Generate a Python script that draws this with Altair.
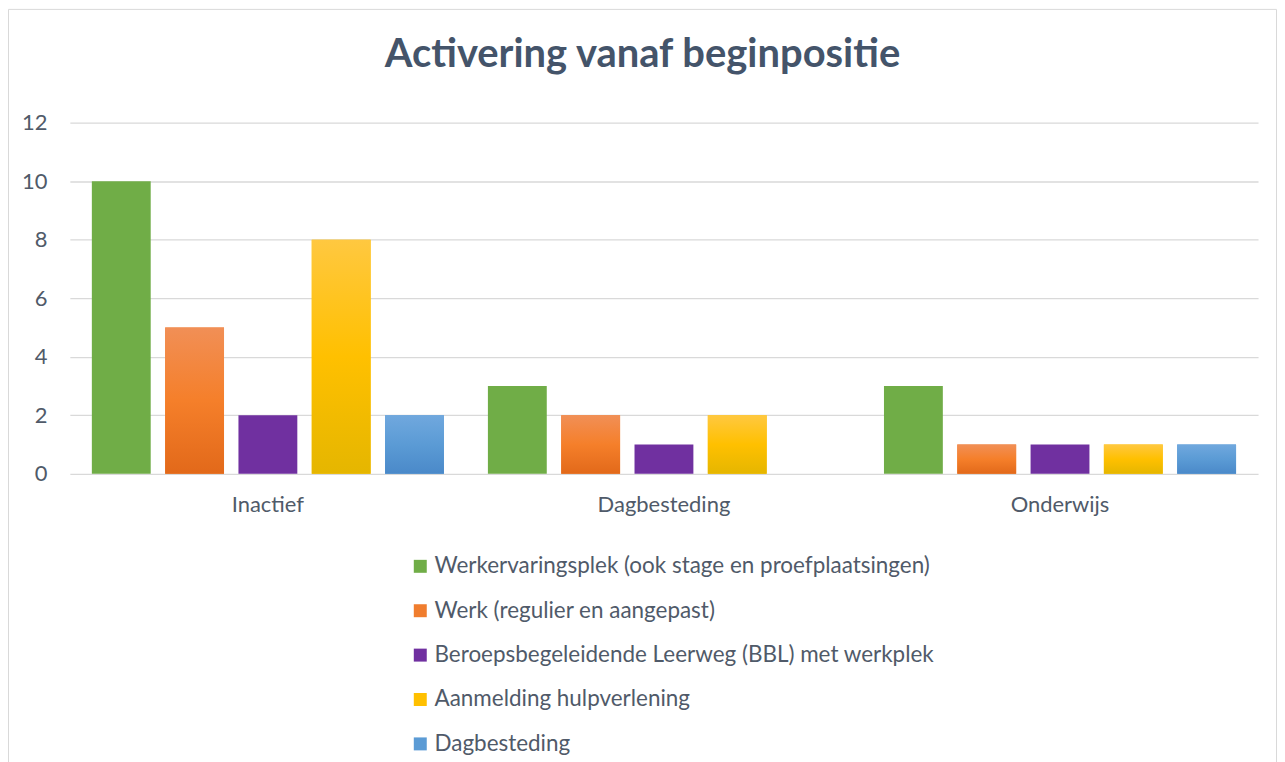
import altair as alt
import pandas as pd

categories = ["Inactief", "Dagbesteding", "Onderwijs"]
series = [
    "Werkervaringsplek (ook stage en proefplaatsingen)",
    "Werk (regulier en aangepast)",
    "Beroepsbegeleidende Leerweg (BBL) met werkplek",
    "Aanmelding hulpverlening",
    "Dagbesteding",
]
values_inactief = [10, 5, 2, 8, 2]
values_dagbesteding = [3, 2, 1, 2, 0]
values_onderwijs = [3, 1, 1, 1, 1]
colors = ["#70AD47", "#F07D2E", "#7030A0", "#FFC000", "#5B9BD5"]

rows = []
for cat, vals in zip(categories, [values_inactief, values_dagbesteding, values_onderwijs]):
    for s, v in zip(series, vals):
        rows.append({"category": cat, "series": s, "value": v})
df = pd.DataFrame(rows)

FONT = "Lato"
LABEL_COLOR = "#505A69"


def grad(top, mid, bottom):
    return alt.Gradient(
        gradient="linear",
        x1=0, y1=0, x2=0, y2=1,
        stops=[
            alt.GradientStop(color=top, offset=0),
            alt.GradientStop(color=mid, offset=0.5),
            alt.GradientStop(color=bottom, offset=1),
        ],
    )


gradients = {
    series[1]: grad("#F18F56", "#F57F2A", "#E2691A"),
    series[3]: grad("#FFC840", "#FFC000", "#E5B600"),
    series[4]: grad("#70A8DE", "#5B9BD5", "#4A89C9"),
}

x_enc = alt.X(
    "category:N",
    sort=categories,
    scale=alt.Scale(domain=categories, paddingInner=0, paddingOuter=0),
    axis=alt.Axis(
        title=None, labelAngle=0, ticks=False, domain=False,
        labelFontSize=22, labelFont=FONT, labelColor=LABEL_COLOR, labelPadding=21,
    ),
)
xo_enc = alt.XOffset(
    "series:N",
    sort=series,
    scale=alt.Scale(domain=series, paddingInner=0.197, paddingOuter=0.3),
)
y_enc = alt.Y(
    "value:Q",
    scale=alt.Scale(domain=[0, 12], nice=False),
    axis=alt.Axis(
        title=None, values=[0, 2, 4, 6, 8, 10, 12], ticks=False, domain=False,
        labelFontSize=22, labelFont=FONT, labelColor=LABEL_COLOR, labelPadding=23,
        gridColor="#D9D9D9", gridWidth=1.3,
    ),
)

border = alt.Chart(pd.DataFrame({"a": [0]})).mark_rect(
    fillOpacity=0, stroke="#D9D9D9", strokeWidth=1
).encode(
    x=alt.value(-61.5), x2=alt.value(1209.5), y=alt.value(-113.5), y2=alt.value(700)
)

bars = alt.Chart(df).mark_bar().encode(
    x=x_enc,
    xOffset=xo_enc,
    y=y_enc,
    color=alt.Color(
        "series:N",
        sort=series,
        scale=alt.Scale(domain=series, range=colors),
        legend=alt.Legend(
            title=None, orient="none", legendX=340, legendY=433.5, direction="vertical",
            symbolType="square", symbolSize=169, symbolStrokeWidth=0,
            labelFontSize=22.5, labelFont=FONT, labelColor=LABEL_COLOR,
            labelLimit=800, labelOffset=3, rowPadding=21.5, padding=0,
        ),
    ),
)

overlays = []
for s, g in gradients.items():
    overlays.append(
        alt.Chart(df)
        .transform_filter(alt.datum.series == s)
        .mark_bar(color=g)
        .encode(x=x_enc, xOffset=xo_enc, y=y_enc)
    )

chart = alt.layer(border, bars, *overlays).properties(
    width=1191,
    height=352,
    autosize=alt.AutoSizeParams(type="none"),
    padding={"left": 62, "top": 114, "right": 19, "bottom": 288},
    title=alt.TitleParams(
        "Activering vanaf beginpositie",
        font=FONT, fontSize=40, fontWeight="bold", color="#44546A",
        anchor="middle", frame="bounds", baseline="alphabetic", offset=-98,
    ),
).configure_view(stroke=None)

chart.save("out.html", embed_options={"renderer": "svg", "actions": False})
